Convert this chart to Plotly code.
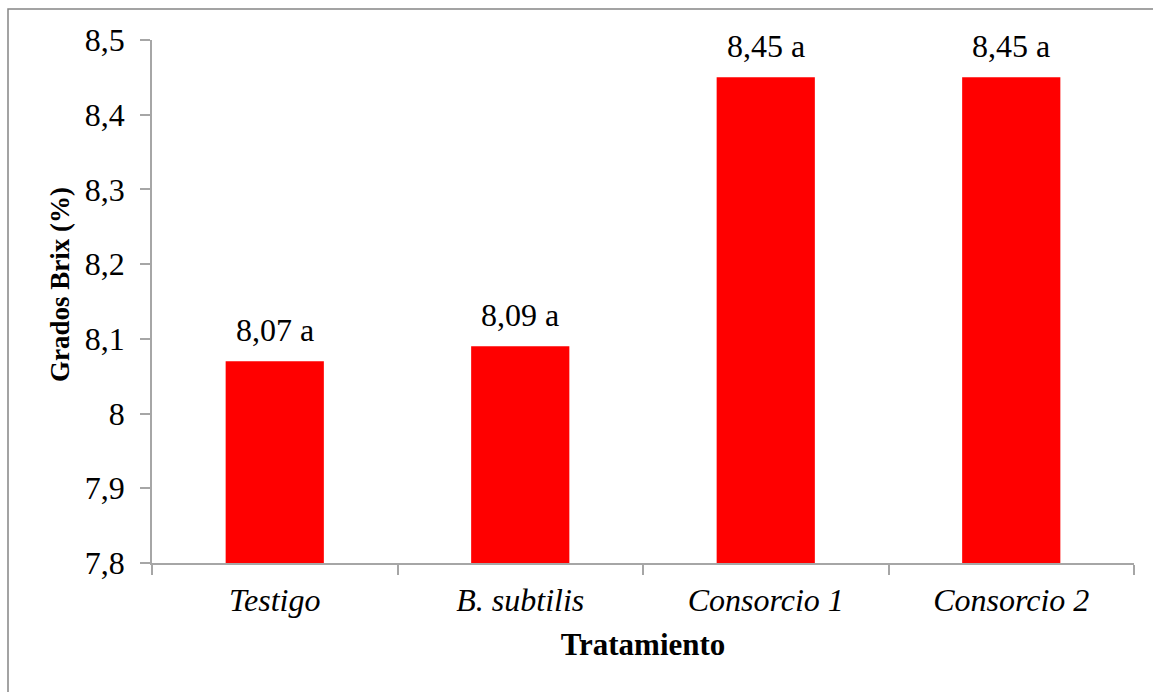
import plotly.graph_objects as go

categories = ["Testigo", "B. subtilis", "Consorcio 1", "Consorcio 2"]
brix = [8.07, 8.09, 8.45, 8.45]
letters = ["a", "a", "a", "a"]
y_ticks = [7.8, 7.9, 8.0, 8.1, 8.2, 8.3, 8.4, 8.5]

FONT = "Liberation Serif"
W, H = 1153, 692
L, R, T, B = 152, 19, 40, 129
pw = W - L - R
ph = H - T - B

labels = [f"<i>{c}</i>" for c in categories]

fig = go.Figure()
fig.add_trace(go.Bar(
    x=labels, y=brix, width=0.4,
    marker=dict(color="#FF0000", line=dict(width=0)),
    hoverinfo="skip",
))

for c, v, l in zip(labels, brix, letters):
    fig.add_annotation(
        x=c, y=v, xref="x", yref="y",
        text=f"{v:.2f}".replace(".", ",") + " " + l,
        showarrow=False, yanchor="bottom", yshift=11,
        font=dict(family=FONT, size=32, color="black"),
    )

# y-axis title
fig.add_annotation(
    xref="paper", yref="paper",
    x=(60 - L) / pw, y=(H - B - 285) / ph,
    xanchor="center", yanchor="middle",
    text="<b>Grados Brix (%)</b>", textangle=-90, showarrow=False,
    font=dict(family=FONT, size=27, color="black"),
)

# outer frame
fig.add_shape(type="rect", xref="paper", yref="paper",
              x0=(8 - L) / pw, x1=(W + 20 - L) / pw,
              y0=-(B + 20) / ph, y1=(H - B - 9) / ph,
              line=dict(color="#858585", width=1.5), fillcolor="rgba(0,0,0,0)",
              layer="below")

fig.update_layout(
    width=W, height=H,
    margin=dict(l=L, r=R, t=T, b=B, autoexpand=False),
    paper_bgcolor="white", plot_bgcolor="white",
    separators=",.",
    showlegend=False,
    font=dict(family=FONT, size=32, color="black"),
)
fig.update_xaxes(
    type="category",
    showline=True, linecolor="#A6A6A6", linewidth=1.5,
    ticks="outside", tickson="boundaries", ticklen=10, tickcolor="#A6A6A6", tickwidth=1.5,
    tickfont=dict(family=FONT, size=32, color="black"),
    ticklabelstandoff=8,
    title=dict(text="<b>Tratamiento</b>", font=dict(family=FONT, size=31, color="black"), standoff=16),
    showgrid=False, zeroline=False,
)
fig.update_yaxes(
    range=[7.8, 8.5], tickvals=y_ticks,
    showline=True, linecolor="#A6A6A6", linewidth=1.5,
    ticks="outside", ticklen=10, tickcolor="#A6A6A6", tickwidth=1.5,
    tickfont=dict(family=FONT, size=32, color="black"),
    ticklabelstandoff=9,
    showgrid=False, zeroline=False,
)

fig.write_html("out.html", config={"displayModeBar": False},
               post_script="document.body.style.margin='0';")
